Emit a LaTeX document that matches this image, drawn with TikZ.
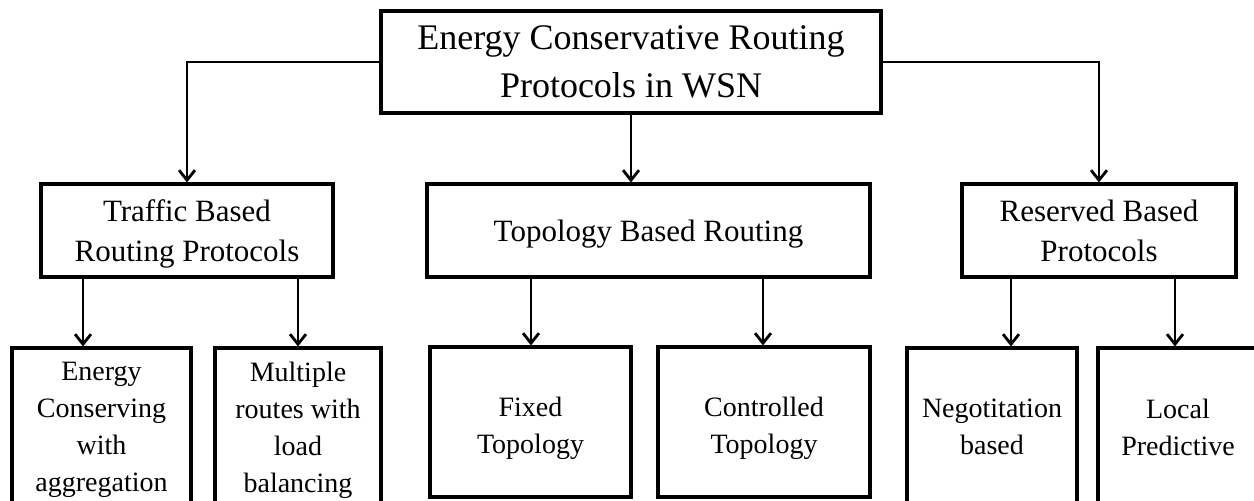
\documentclass[tikz,border=0pt]{standalone}
\usepackage{fontspec}
\setmainfont{Liberation Serif}
\usetikzlibrary{arrows.meta}
\begin{document}
\begin{tikzpicture}[x=0.5pt,y=-0.5pt,
  box/.style={draw,line width=1.6pt,align=center,inner sep=0pt,text=black},
  rootbox/.style={box,text depth=0pt,minimum width=250pt,minimum height=51pt,
    font=\fontsize{18}{24}\selectfont},
  midbox/.style={box,text depth=0pt,minimum height=46.5pt,
    font=\fontsize{15.5}{20}\selectfont},
  leafbox/.style={box,font=\fontsize{14}{18.5}\selectfont},
  arr/.style={line width=1.4pt,
    -{Straight Barb[length=5pt,width=8pt,line width=1.4pt]}}]
  \useasboundingbox (0,0) rectangle (1254,500);
  \clip (0,0) rectangle (1254,500);

  % root
  \node[rootbox] (root) at (631,62) {Energy Conservative Routing\\Protocols in WSN};

  % second level
  \node[midbox,minimum width=146pt] (traffic) at (187,230.5)
    {Traffic Based\\Routing Protocols};
  \node[midbox,minimum width=221.5pt] (topo) at (648.5,230.5)
    {Topology Based Routing};
  \node[midbox,minimum width=137pt] (reserved) at (1099,230.5)
    {Reserved Based\\Protocols};

  % leaves (the strut lowers the two-line labels inside the shorter boxes)
  \node[leafbox,minimum width=89.5pt,minimum height=82pt] (aggr) at (101.5,430)
    {Energy\\Conserving\\with\\aggregation};
  \node[leafbox,minimum width=83pt,minimum height=82pt] (multi) at (298,430)
    {Multiple\\routes with\\load\\balancing};
  \node[leafbox,minimum width=100.5pt,minimum height=75pt] (fixed) at (530.5,422)
    {\rule{0pt}{15.6pt}Fixed\\Topology};
  \node[leafbox,minimum width=106pt,minimum height=75pt] (ctrl) at (764,422)
    {\rule{0pt}{15.6pt}Controlled\\Topology};
  \node[leafbox,minimum width=85pt,minimum height=79pt] (nego) at (992,427)
    {Negotitation\\based};
  \node[leafbox,minimum width=80pt,minimum height=79pt] (local) at (1178,427)
    {Local\\Predictive};

  % x positions of the lower arrows
  \coordinate (xa) at (83,0);
  \coordinate (xb) at (298,0);
  \coordinate (xc) at (531,0);
  \coordinate (xd) at (763,0);
  \coordinate (xe) at (1011,0);
  \coordinate (xf) at (1175,0);

  % connectors from the root
  \draw[arr] (root.west) -| (traffic.north);
  \draw[arr] (root.east) -| (reserved.north);
  \draw[arr] (root.south) -- (root.south |- topo.north);

  % connectors to the leaves
  \draw[arr] (traffic.south -| xa) -- (aggr.north -| xa);
  \draw[arr] (traffic.south -| xb) -- (multi.north -| xb);
  \draw[arr] (topo.south -| xc) -- (fixed.north -| xc);
  \draw[arr] (topo.south -| xd) -- (ctrl.north -| xd);
  \draw[arr] (reserved.south -| xe) -- (nego.north -| xe);
  \draw[arr] (reserved.south -| xf) -- (local.north -| xf);
\end{tikzpicture}
\end{document}
